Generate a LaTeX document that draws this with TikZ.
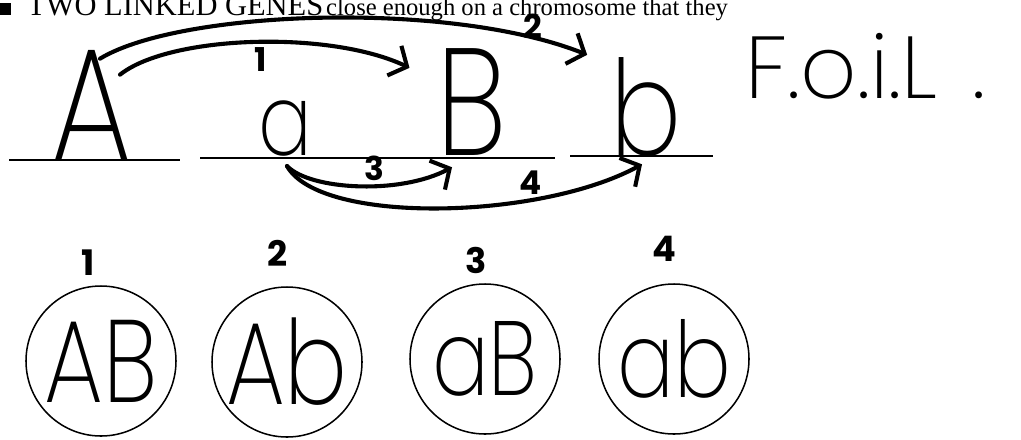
\documentclass[tikz,border=0pt]{standalone}
\usepackage{fontspec}
\setmainfont{Liberation Serif}
\newfontfamily\handfont{Poppins ExtraLight}
\newfontfamily\numfont{Poppins}
\usetikzlibrary{arrows.meta,positioning}
\newcommand{\slim}[1]{\scalebox{0.8}[1]{#1}}

\begin{document}
\begin{tikzpicture}[x=0.03cm, y=-0.03cm,
    letter/.style={inner sep=0pt, anchor=base},
    chrom/.style={line width=1.6pt},
    arr/.style={-{Straight Barb[length=12pt,width=28pt]}, line width=3.5pt, line cap=round},
    lbl/.style={font=\numfont\bfseries\fontsize{28}{28}\selectfont, inner sep=3pt},
    gamete/.style={circle, draw, line width=1.3pt, minimum size=4.5cm, inner sep=0pt,
                   font=\handfont\fontsize{100}{100}\selectfont},
    num/.style={font=\numfont\bfseries\fontsize{30}{30}\selectfont, inner sep=0pt}
]
    \useasboundingbox[fill=white] (0,0) rectangle (1021,439);

    % heading, cut by the top edge
    \node[anchor=base west, inner sep=0pt] (head) at (0,15)
        {\rule{9pt}{10pt}\hspace{14pt}{\fontsize{26}{26}\selectfont TWO LINKED GENES}
         {\fontsize{21}{21}\selectfont close enough on a chromosome that they}};

    % chromosome
    \draw[chrom] (9,160) -- (180,160);
    \draw[chrom] (200,158) -- (555,158);
    \draw[chrom] (570,156) -- (713,156);

    \node[letter, font=\handfont\fontsize{137}{137}\selectfont] (A) at (92,160) {\slim{A}};
    \node[letter, font=\handfont\fontsize{85}{85}\selectfont] (a) at (285,155) {\slim{a}};
    \node[letter, font=\handfont\fontsize{130}{130}\selectfont] (B) at (472,155) {\slim{B}};
    \node[letter, font=\handfont\fontsize{113}{113}\selectfont] (b) at (646,155) {\slim{b}};

    \node[letter, anchor=base west, font=\handfont\fontsize{75}{75}\selectfont] (foil) at (745,98) {F.o.i.L\hspace{0.4em}.};

    % crossing arrows
    \draw[arr] ([shift={(28,25)}]A.north) .. controls (170,35) and (330,30) ..
        node[lbl, pos=0.52, below] {1} ([shift={(-27,20)}]B.north west);
    \draw[arr] ([shift={(8,9)}]A.north) .. controls (180,10) and (450,0) ..
        node[lbl, pos=0.88, above, yshift=-5pt] {2} ([shift={(-23,-2)}]b.north west);
    \draw[arr] ([shift={(2,10)}]a.south) .. controls (310,190) and (400,195) ..
        node[lbl, pos=0.58, above] {3} ([shift={(-20,12)}]B.south);
    \draw[arr] ([shift={(2,10)}]a.south) .. controls (320,225) and (540,220) ..
        node[lbl, pos=0.71, above] {4} ([shift={(-4,8)}]b.south);

    % gametes
    \node[gamete] (g1) at (101,361) {\slim{AB}};
    \node[gamete] (g2) at (287,362) {\slim{Ab}};
    \node[gamete, font=\handfont\fontsize{90}{90}\selectfont] (g3) at (485,359) {\slim{aB}};
    \node[gamete, font=\handfont\fontsize{90}{90}\selectfont] (g4) at (674,359) {\slim{ab}};

    \node[num, above=8pt of g1, xshift=-11pt] (n1) {1};
    \node[num, above=17pt of g2, xshift=-8pt] (n2) {2};
    \node[num, above=8pt of g3, xshift=-8pt] (n3) {3};
    \node[num, above=18pt of g4, xshift=-8pt] (n4) {4};
\end{tikzpicture}
\end{document}
